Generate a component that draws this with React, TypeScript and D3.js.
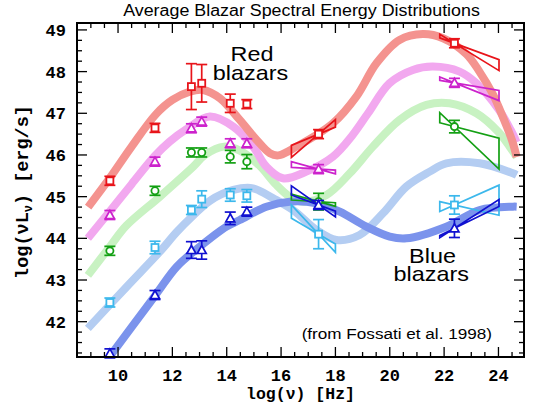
import React from 'react';
import * as d3 from 'd3';

const W = 533;
const H = 414;

// band frequencies log(nu)
const bands = [9.7, 11.36, 12.7, 13.08, 14.13, 14.74, 17.38, 22.38];
const xrayRange = [16.38, 18.0];
const gammaRange = [21.84, 24.02];

// average luminosities per band
const redLum = [45.38, 46.65, 47.64, 47.72, 47.24, 47.22, 46.5, 48.68];
const redErr = [0.05, 0.1, 0.55, 0.45, 0.22, 0.08, 0.08, 0.1];
const magentaLum = [44.56, 45.84, 46.64, 46.8, 46.28, 46.28, 45.66, 47.73];
const magentaErr = [0.04, 0.06, 0.08, 0.09, 0.1, 0.1, 0.05, 0.06];
const greenLum = [43.7, 45.14, 46.06, 46.06, 45.96, 45.84, 44.88, 46.68];
const greenErr = [0.04, 0.06, 0.05, 0.05, 0.15, 0.17, 0.2, 0.15];
const cyanLum = [42.46, 43.78, 44.68, 44.94, 45.04, 45.02, 44.1, 44.8];
const cyanErr = [0.06, 0.15, 0.1, 0.2, 0.15, 0.15, 0.35, 0.22];
const blueLum = [41.24, 42.64, 43.72, 43.72, 44.48, 44.64, 44.8, 44.24];
const blueErr = [0.05, 0.1, 0.2, 0.22, 0.15, 0.1, 0.08, 0.22];

// bowtie spectral slopes
const redXSlopes = [0.27, 0.56];
const redGSlopes = [-0.24, -0.4];
const magentaXSlopes = [-0.04, -0.18];
const magentaGSlopes = [-0.11, -0.26];
const greenXSlopes = [-0.04, -0.18];
const greenGSlopes = [-0.17, -0.62];
const cyanXSlopes = [-0.38, -0.7];
const cyanGSlopes = [0.29, -0.15];
const blueXSlopes = [-0.24, -0.46];
const blueGSlopes = [0.32, 0.42];

// model curves [log nu, log L]
const redCurve = [[8.9, 44.75], [9.7, 45.45], [10.5, 46.2], [11.4, 46.98], [12.0, 47.32], [12.64, 47.52], [13.13, 47.56], [13.75, 47.36], [14.48, 46.84], [15.1, 46.36], [15.59, 46.04], [15.9, 45.99], [16.57, 46.2], [17.91, 46.76], [18.77, 47.4], [19.51, 48.2], [20.36, 48.76], [21.22, 48.9], [21.96, 48.8], [22.82, 48.42], [23.3, 48.0], [23.8, 47.45], [24.2, 46.85], [24.5, 46.35], [24.67, 45.95]];
const magentaCurve = [[8.89, 44.0], [9.7, 44.65], [10.5, 45.3], [11.36, 45.98], [11.9, 46.32], [12.52, 46.62], [13.38, 46.92], [14.24, 46.68], [14.97, 46.2], [15.46, 45.72], [16.07, 45.44], [16.93, 45.6], [17.91, 45.96], [18.6, 46.45], [19.2, 47.0], [19.99, 47.72], [20.85, 48.04], [21.59, 48.12], [22.57, 48.0], [23.19, 47.72], [24.0, 47.1], [24.45, 46.6], [24.67, 46.3]];
const greenCurve = [[8.89, 43.11], [9.7, 43.8], [10.3, 44.3], [11.54, 45.0], [12.77, 45.72], [13.2, 46.0], [13.9, 46.2], [14.5, 46.1], [15.2, 45.75], [15.8, 45.3], [16.32, 45.0], [16.81, 44.88], [17.67, 45.04], [18.53, 45.56], [19.38, 46.2], [20.36, 46.84], [21.35, 47.2], [22.2, 47.24], [23.19, 47.0], [24.0, 46.55], [24.41, 46.2], [24.67, 45.95]];
const cyanCurve = [[8.89, 41.84], [10.32, 42.84], [11.54, 43.68], [12.16, 44.15], [12.77, 44.55], [13.38, 44.9], [14.24, 45.16], [14.97, 45.2], [15.71, 44.96], [16.44, 44.68], [17.3, 44.2], [18.04, 43.96], [18.89, 44.08], [19.75, 44.6], [20.61, 45.24], [21.47, 45.6], [22.08, 45.8], [23.31, 45.8], [24.53, 45.56], [24.67, 45.52]];
const blueCurve = [[9.45, 40.95], [11.38, 42.64], [12.16, 43.32], [13.01, 43.8], [13.99, 44.28], [14.48, 44.44], [15.46, 44.76], [16.32, 44.88], [17.3, 44.84], [18.16, 44.64], [19.14, 44.28], [20.0, 44.04], [20.61, 44.0], [22.08, 44.28], [23.31, 44.68], [24.53, 44.76], [24.67, 44.76]];

const xTickLabels = [10, 12, 14, 16, 18, 20, 22, 24];
const yTickLabels = [42, 43, 44, 45, 46, 47, 48, 49];

const series = [
  { lum: greenLum, err: greenErr, xs: greenXSlopes, gs: greenGSlopes, curve: greenCurve, color: '#14a014', curveColor: '#c8f2c2', marker: 'circle' },
  { lum: magentaLum, err: magentaErr, xs: magentaXSlopes, gs: magentaGSlopes, curve: magentaCurve, color: '#cc22cc', curveColor: '#f2a8ef', marker: 'triangle' },
  { lum: redLum, err: redErr, xs: redXSlopes, gs: redGSlopes, curve: redCurve, color: '#e8141a', curveColor: '#f4938f', marker: 'square' },
  { lum: cyanLum, err: cyanErr, xs: cyanXSlopes, gs: cyanGSlopes, curve: cyanCurve, color: '#3cb8ec', curveColor: '#b4cdf2', marker: 'square' },
  { lum: blueLum, err: blueErr, xs: blueXSlopes, gs: blueGSlopes, curve: blueCurve, color: '#1010d0', curveColor: '#7b93ec', marker: 'triangle' },
];

const L = 77, R = 524, T = 23, B = 357;
const x = d3.scaleLinear().domain([8.49, 24.94]).range([L, R]);
const y = d3.scaleLinear().domain([41.153, 49.166]).range([B, T]);

const mono = '"Liberation Mono", "DejaVu Sans Mono", monospace';
const sans = '"Liberation Sans", Arial, sans-serif';

function Marker({ type, cx, cy, color }: any) {
  if (type === 'square') return <rect x={cx - 3.5} y={cy - 3.5} width={7} height={7} fill="white" stroke={color} strokeWidth={1.8} />;
  if (type === 'circle') return <circle cx={cx} cy={cy} r={3.6} fill="white" stroke={color} strokeWidth={1.8} />;
  return <path d={`M${cx - 4.5},${cy + 3.5}L${cx + 4.5},${cy + 3.5}L${cx},${cy - 4.5}Z`} fill="white" stroke={color} strokeWidth={1.7} />;
}

function bowtie(xr: number[], xc: number, yc: number, s: number[]) {
  const p = [
    [xr[0], yc + s[0] * (xr[0] - xc)],
    [xr[1], yc + s[0] * (xr[1] - xc)],
    [xr[1], yc + s[1] * (xr[1] - xc)],
    [xr[0], yc + s[1] * (xr[0] - xc)],
  ];
  return 'M' + p.map(q => `${x(q[0])},${y(q[1])}`).join('L') + 'Z';
}

export default function App() {
  const line = d3.line<number[]>().x(d => x(d[0])).y(d => y(d[1])).curve(d3.curveCatmullRom.alpha(0.5));
  const xMinor = d3.range(8.5, 24.95, 0.5);
  const yMinor = d3.range(41.25, 49.17, 0.25);
  return (
    <svg width={W} height={H} style={{ position: 'absolute', left: 0, top: 0, background: 'white' }}>
      <defs>
        <clipPath id="plot"><rect x={L} y={T} width={R - L} height={B - T} /></clipPath>
      </defs>
      <g clipPath="url(#plot)">
        {series.map((s, i) => (
          <path key={i} d={line(s.curve) || ''} fill="none" stroke={s.curveColor} strokeWidth={8} strokeLinecap="butt" />
        ))}
      </g>
      {series.map((s, i) => (
        <g key={i}>
          <path d={bowtie(xrayRange, bands[6], s.lum[6], s.xs)} fill="none" stroke={s.color} strokeWidth={1.7} />
          <path d={bowtie(gammaRange, bands[7], s.lum[7], s.gs)} fill="none" stroke={s.color} strokeWidth={1.7} />
          {bands.map((b, j) => {
            const cx = x(b);
            const cy = y(s.lum[j]);
            const e = Math.max(y(s.lum[j] - s.err[j]) - cy, 4.5);
            return (
              <g key={j}>
                <line x1={cx} x2={cx} y1={cy - e} y2={cy + e} stroke={s.color} strokeWidth={1.7} />
                <line x1={cx - 5.5} x2={cx + 5.5} y1={cy - e} y2={cy - e} stroke={s.color} strokeWidth={1.7} />
                <line x1={cx - 5.5} x2={cx + 5.5} y1={cy + e} y2={cy + e} stroke={s.color} strokeWidth={1.7} />
                <Marker type={s.marker} cx={cx} cy={cy} color={s.color} />
              </g>
            );
          })}
        </g>
      ))}
      <rect x={L} y={T} width={R - L} height={B - T} fill="none" stroke="black" strokeWidth={2} />
      {xMinor.map((v, i) => {
        const major = xTickLabels.includes(v);
        const len = major ? 10 : 5;
        return (
          <g key={i}>
            <line x1={x(v)} x2={x(v)} y1={B} y2={B - len} stroke="black" strokeWidth={1.3} />
            <line x1={x(v)} x2={x(v)} y1={T} y2={T + len} stroke="black" strokeWidth={1.3} />
          </g>
        );
      })}
      {yMinor.map((v, i) => {
        const major = Math.abs(v - Math.round(v)) < 1e-6;
        const len = major ? 10 : 5;
        return (
          <g key={i}>
            <line x1={L} x2={L + len} y1={y(v)} y2={y(v)} stroke="black" strokeWidth={1.3} />
            <line x1={R} x2={R - len} y1={y(v)} y2={y(v)} stroke="black" strokeWidth={1.3} />
          </g>
        );
      })}
      {xTickLabels.map(v => (
        <text key={v} x={x(v)} y={381} textAnchor="middle" fontFamily={mono} fontWeight="bold" fontSize={17}>{v}</text>
      ))}
      {yTickLabels.map(v => (
        <text key={v} x={66} y={y(v)} dy="0.35em" textAnchor="end" fontFamily={mono} fontWeight="bold" fontSize={17}>{v}</text>
      ))}
      <text x={300.5} y={399} textAnchor="middle" fontFamily={mono} fontWeight="bold" fontSize={16.5}>log(ν) [Hz]</text>
      <text transform="translate(28,192) rotate(-90)" textAnchor="middle" fontFamily={mono} fontWeight="bold" fontSize={18.5}>
        log(νL<tspan fontSize={12} dy={4}>ν</tspan><tspan dy={-4}>) [erg/s]</tspan>
      </text>
      <text transform="translate(301.5,15.5) scale(1.13,1)" textAnchor="middle" fontFamily={sans} fontSize={15.8}>Average Blazar Spectral Energy Distributions</text>
      <text transform="translate(252,61) scale(1.17,1)" textAnchor="middle" fontFamily={sans} fontSize={20}>Red</text>
      <text transform="translate(250.5,79.5) scale(1.17,1)" textAnchor="middle" fontFamily={sans} fontSize={20}>blazars</text>
      <text transform="translate(432.5,262.5) scale(1.17,1)" textAnchor="middle" fontFamily={sans} fontSize={20}>Blue</text>
      <text transform="translate(431.3,280.5) scale(1.17,1)" textAnchor="middle" fontFamily={sans} fontSize={20}>blazars</text>
      <text transform="translate(492,339) scale(1.12,1)" textAnchor="end" fontFamily={sans} fontSize={15.3}>(from Fossati et al. 1998)</text>
    </svg>
  );
}
